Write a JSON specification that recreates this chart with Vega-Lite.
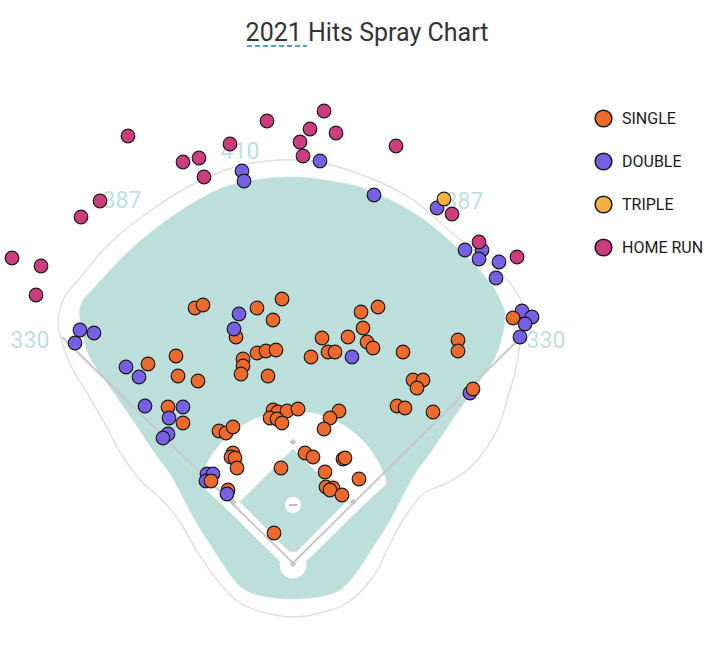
{
  "$schema": "https://vega.github.io/schema/vega-lite/v6.json",
  "width": 724,
  "height": 624,
  "autosize": "none",
  "padding": {"left": 0, "top": 44, "right": 0, "bottom": 0},
  "background": "white",
  "title": {
    "text": "2021 Hits Spray Chart",
    "font": "Roboto",
    "fontSize": 25,
    "fontWeight": "normal",
    "color": "#333333",
    "anchor": "middle",
    "frame": "group",
    "dx": 5,
    "dy": 26,
    "offset": 4,
    "baseline": "alphabetic"
  },
  "config": {"view": {"stroke": null}},
  "datasets": {
    "wall": [
      {"i":1,"x":62,"y":342},{"i":2,"x":58,"y":322},{"i":3,"x":64,"y":298},{"i":4,"x":80,"y":278},{"i":5,"x":110,"y":243},{"i":6,"x":150,"y":211},{"i":7,"x":190,"y":186},{"i":8,"x":235,"y":167},{"i":9,"x":280,"y":160},{"i":10,"x":323,"y":163},{"i":11,"x":370,"y":178},{"i":12,"x":413,"y":200},{"i":13,"x":457,"y":237},{"i":14,"x":490,"y":262},{"i":15,"x":510,"y":283},{"i":16,"x":522,"y":303},{"i":17,"x":525,"y":323},{"i":18,"x":520,"y":345},{"i":19,"x":515,"y":372},{"i":20,"x":507,"y":400},{"i":21,"x":497,"y":430},{"i":22,"x":473,"y":465},{"i":23,"x":447,"y":483},{"i":24,"x":423,"y":494},{"i":25,"x":403,"y":520},{"i":26,"x":388,"y":548},{"i":27,"x":373,"y":577},{"i":28,"x":347,"y":603},{"i":29,"x":320,"y":613},{"i":30,"x":293,"y":617},{"i":31,"x":266,"y":613},{"i":32,"x":240,"y":603},{"i":33,"x":217,"y":580},{"i":34,"x":195,"y":548},{"i":35,"x":180,"y":522},{"i":36,"x":162,"y":500},{"i":37,"x":140,"y":480},{"i":38,"x":120,"y":452},{"i":39,"x":104,"y":422},{"i":40,"x":87,"y":393},{"i":41,"x":72,"y":368}
    ],
    "outfield": [
      {"i":1,"x":80,"y":318},{"i":2,"x":82,"y":302},{"i":3,"x":95,"y":287},{"i":4,"x":127,"y":253},{"i":5,"x":167,"y":220},{"i":6,"x":217,"y":190},{"i":7,"x":255,"y":180},{"i":8,"x":293,"y":177},{"i":9,"x":330,"y":181},{"i":10,"x":368,"y":190},{"i":11,"x":420,"y":217},{"i":12,"x":467,"y":257},{"i":13,"x":490,"y":283},{"i":14,"x":500,"y":300},{"i":15,"x":505,"y":318},{"i":16,"x":497,"y":353},{"i":17,"x":480,"y":380},{"i":18,"x":457,"y":413},{"i":19,"x":430,"y":453},{"i":20,"x":413,"y":477},{"i":21,"x":390,"y":520},{"i":22,"x":373,"y":547},{"i":23,"x":353,"y":577},{"i":24,"x":338,"y":591},{"i":25,"x":318,"y":597},{"i":26,"x":293,"y":599},{"i":27,"x":268,"y":597},{"i":28,"x":247,"y":591},{"i":29,"x":232,"y":577},{"i":30,"x":212,"y":547},{"i":31,"x":195,"y":520},{"i":32,"x":172,"y":477},{"i":33,"x":155,"y":453},{"i":34,"x":128,"y":413},{"i":35,"x":105,"y":380},{"i":36,"x":88,"y":353}
    ],
    "dirt": [
      {"i":1,"x":293,"y":574},{"i":2,"x":231,"y":513},{"i":3,"x":200,"y":484},{"i":4,"x":200.7,"y":478},{"i":5,"x":205.8,"y":465.5},{"i":6,"x":212.6,"y":453.8},{"i":7,"x":220.9,"y":443.1},{"i":8,"x":230.6,"y":433.7},{"i":9,"x":241.6,"y":425.7},{"i":10,"x":253.5,"y":419.4},{"i":11,"x":266.3,"y":414.8},{"i":12,"x":279.5,"y":411.9},{"i":13,"x":293,"y":411},{"i":14,"x":306.5,"y":411.9},{"i":15,"x":319.7,"y":414.8},{"i":16,"x":332.5,"y":419.4},{"i":17,"x":344.4,"y":425.7},{"i":18,"x":355.4,"y":433.7},{"i":19,"x":365.1,"y":443.1},{"i":20,"x":373.4,"y":453.8},{"i":21,"x":380.2,"y":465.5},{"i":22,"x":385.3,"y":478},{"i":23,"x":386,"y":484},{"i":24,"x":355,"y":513}
    ],
    "grass": [
      {"i":1,"x":293,"y":449},{"i":2,"x":346,"y":502},{"i":3,"x":293,"y":555},{"i":4,"x":240,"y":502}
    ],
    "circles": [
      {"x":293,"y":565,"kind":"home"},{"x":293,"y":505,"kind":"mound"}
    ],
    "foul": [
      {"x":62,"y":337,"x2":293,"y2":563},{"x":293,"y":563,"x2":521,"y2":337}
    ],
    "bases": [
      {"x":233,"y":502},{"x":293,"y":442},{"x":353,"y":502},{"x":293,"y":564}
    ],
    "mound": [{"x":293,"y":505}],
    "distances": [
      {"x":30,"y":341,"label":"330"},{"x":122,"y":201,"label":"387"},{"x":240,"y":152,"label":"410"},{"x":464,"y":202,"label":"387"},{"x":546,"y":341,"label":"330"}
    ],
    "underline": [{"x":247,"x2":307,"y":46}],
    "hits": [
      {"x":195,"y":308,"type":"SINGLE"},{"x":203,"y":305,"type":"SINGLE"},{"x":257,"y":308,"type":"SINGLE"},{"x":282,"y":299,"type":"SINGLE"},{"x":273,"y":320,"type":"SINGLE"},{"x":236,"y":337,"type":"SINGLE"},{"x":148,"y":364,"type":"SINGLE"},{"x":176,"y":356,"type":"SINGLE"},{"x":178,"y":376,"type":"SINGLE"},{"x":198,"y":381,"type":"SINGLE"},{"x":243,"y":359,"type":"SINGLE"},{"x":243,"y":366,"type":"SINGLE"},{"x":241,"y":374,"type":"SINGLE"},{"x":257,"y":353,"type":"SINGLE"},{"x":266,"y":351,"type":"SINGLE"},{"x":276,"y":350,"type":"SINGLE"},{"x":268,"y":376,"type":"SINGLE"},{"x":311,"y":357,"type":"SINGLE"},{"x":322,"y":338,"type":"SINGLE"},{"x":348,"y":337,"type":"SINGLE"},{"x":328,"y":352,"type":"SINGLE"},{"x":335,"y":352,"type":"SINGLE"},{"x":361,"y":312,"type":"SINGLE"},{"x":378,"y":307,"type":"SINGLE"},{"x":363,"y":328,"type":"SINGLE"},{"x":367,"y":342,"type":"SINGLE"},{"x":373,"y":348,"type":"SINGLE"},{"x":403,"y":352,"type":"SINGLE"},{"x":458,"y":340,"type":"SINGLE"},{"x":458,"y":351,"type":"SINGLE"},{"x":413,"y":380,"type":"SINGLE"},{"x":423,"y":380,"type":"SINGLE"},{"x":417,"y":388,"type":"SINGLE"},{"x":397,"y":406,"type":"SINGLE"},{"x":405,"y":408,"type":"SINGLE"},{"x":433,"y":412,"type":"SINGLE"},{"x":168,"y":407,"type":"SINGLE"},{"x":183,"y":423,"type":"SINGLE"},{"x":219,"y":431,"type":"SINGLE"},{"x":226,"y":433,"type":"SINGLE"},{"x":233,"y":427,"type":"SINGLE"},{"x":233,"y":453,"type":"SINGLE"},{"x":231,"y":457,"type":"SINGLE"},{"x":235,"y":458,"type":"SINGLE"},{"x":237,"y":468,"type":"SINGLE"},{"x":228,"y":490,"type":"SINGLE"},{"x":273,"y":410,"type":"SINGLE"},{"x":278,"y":412,"type":"SINGLE"},{"x":287,"y":411,"type":"SINGLE"},{"x":298,"y":409,"type":"SINGLE"},{"x":270,"y":418,"type":"SINGLE"},{"x":277,"y":419,"type":"SINGLE"},{"x":282,"y":423,"type":"SINGLE"},{"x":339,"y":411,"type":"SINGLE"},{"x":330,"y":418,"type":"SINGLE"},{"x":324,"y":429,"type":"SINGLE"},{"x":281,"y":468,"type":"SINGLE"},{"x":305,"y":453,"type":"SINGLE"},{"x":313,"y":457,"type":"SINGLE"},{"x":325,"y":472,"type":"SINGLE"},{"x":343,"y":459,"type":"SINGLE"},{"x":345,"y":458,"type":"SINGLE"},{"x":359,"y":479,"type":"SINGLE"},{"x":326,"y":487,"type":"SINGLE"},{"x":333,"y":488,"type":"SINGLE"},{"x":330,"y":490,"type":"SINGLE"},{"x":342,"y":495,"type":"SINGLE"},{"x":274,"y":533,"type":"SINGLE"},
      {"x":242,"y":171,"type":"DOUBLE"},{"x":244,"y":181,"type":"DOUBLE"},{"x":320,"y":161,"type":"DOUBLE"},{"x":374,"y":195,"type":"DOUBLE"},{"x":437,"y":208,"type":"DOUBLE"},{"x":465,"y":250,"type":"DOUBLE"},{"x":482,"y":250,"type":"DOUBLE"},{"x":479,"y":259,"type":"DOUBLE"},{"x":499,"y":262,"type":"DOUBLE"},{"x":496,"y":278,"type":"DOUBLE"},{"x":522,"y":311,"type":"DOUBLE"},{"x":532,"y":317,"type":"DOUBLE"},{"x":525,"y":324,"type":"DOUBLE"},{"x":520,"y":337,"type":"DOUBLE"},{"x":80,"y":330,"type":"DOUBLE"},{"x":94,"y":333,"type":"DOUBLE"},{"x":75,"y":343,"type":"DOUBLE"},{"x":126,"y":367,"type":"DOUBLE"},{"x":139,"y":377,"type":"DOUBLE"},{"x":239,"y":314,"type":"DOUBLE"},{"x":234,"y":329,"type":"DOUBLE"},{"x":352,"y":357,"type":"DOUBLE"},{"x":145,"y":406,"type":"DOUBLE"},{"x":183,"y":407,"type":"DOUBLE"},{"x":169,"y":418,"type":"DOUBLE"},{"x":168,"y":434,"type":"DOUBLE"},{"x":163,"y":438,"type":"DOUBLE"},{"x":207,"y":474,"type":"DOUBLE"},{"x":213,"y":474,"type":"DOUBLE"},{"x":206,"y":481,"type":"DOUBLE"},{"x":227,"y":494,"type":"DOUBLE"},{"x":470,"y":393,"type":"DOUBLE"},
      {"x":211,"y":481,"type":"SINGLE"},{"x":513,"y":318,"type":"SINGLE"},{"x":473,"y":389,"type":"SINGLE"},
      {"x":444,"y":199,"type":"TRIPLE"},
      {"x":12,"y":258,"type":"HOME RUN"},{"x":41,"y":266,"type":"HOME RUN"},{"x":36,"y":295,"type":"HOME RUN"},{"x":81,"y":217,"type":"HOME RUN"},{"x":100,"y":201,"type":"HOME RUN"},{"x":128,"y":136,"type":"HOME RUN"},{"x":183,"y":162,"type":"HOME RUN"},{"x":199,"y":158,"type":"HOME RUN"},{"x":204,"y":177,"type":"HOME RUN"},{"x":230,"y":144,"type":"HOME RUN"},{"x":267,"y":121,"type":"HOME RUN"},{"x":300,"y":142,"type":"HOME RUN"},{"x":310,"y":129,"type":"HOME RUN"},{"x":324,"y":111,"type":"HOME RUN"},{"x":336,"y":133,"type":"HOME RUN"},{"x":303,"y":156,"type":"HOME RUN"},{"x":396,"y":146,"type":"HOME RUN"},{"x":452,"y":214,"type":"HOME RUN"},{"x":479,"y":242,"type":"HOME RUN"},{"x":517,"y":257,"type":"HOME RUN"}
    ]
  },
  "encoding": {
    "x": {"field": "x", "type": "quantitative", "scale": {"domain": [0, 724], "nice": false, "zero": false}, "axis": null},
    "y": {"field": "y", "type": "quantitative", "scale": {"domain": [44, 668], "nice": false, "zero": false, "reverse": true}, "axis": null}
  },
  "layer": [
    {
      "data": {"name": "wall"},
      "mark": {"type": "line", "interpolate": "cardinal-closed", "stroke": "#e0e0e0", "strokeWidth": 1.5},
      "encoding": {"order": {"field": "i", "type": "quantitative"}}
    },
    {
      "data": {"name": "outfield"},
      "mark": {"type": "line", "interpolate": "cardinal-closed", "fill": "#bcdfdc", "stroke": "#bcdfdc", "strokeWidth": 0.5},
      "encoding": {"order": {"field": "i", "type": "quantitative"}}
    },
    {
      "data": {"name": "dirt"},
      "mark": {"type": "line", "interpolate": "linear-closed", "fill": "#ffffff", "stroke": "#ffffff", "strokeWidth": 0.5},
      "encoding": {"order": {"field": "i", "type": "quantitative"}}
    },
    {
      "data": {"name": "grass"},
      "mark": {"type": "line", "interpolate": "linear-closed", "fill": "#bcdfdc", "stroke": "#bcdfdc", "strokeWidth": 0.5},
      "encoding": {"order": {"field": "i", "type": "quantitative"}}
    },
    {
      "data": {"name": "circles"},
      "mark": {"type": "point", "filled": true, "color": "#ffffff", "opacity": 1},
      "encoding": {
        "size": {"field": "kind", "type": "nominal", "scale": {"domain": ["home", "mound"], "range": [720, 260]}, "legend": null}
      }
    },
    {
      "data": {"name": "foul"},
      "mark": {"type": "rule", "color": "#c8c8c8", "strokeWidth": 2},
      "encoding": {"x2": {"field": "x2"}, "y2": {"field": "y2"}}
    },
    {
      "data": {"name": "bases"},
      "mark": {"type": "point", "shape": "diamond", "filled": true, "color": "#c4c4c4", "size": 45, "opacity": 1},
      "encoding": {}
    },
    {
      "data": {"name": "mound"},
      "mark": {"type": "point", "shape": "M-1,0L1,0", "filled": false, "stroke": "#bdbdbd", "strokeWidth": 2, "size": 64, "opacity": 1},
      "encoding": {}
    },
    {
      "data": {"name": "distances"},
      "mark": {"type": "text", "font": "Roboto", "fontSize": 23, "color": "#bfe0dc", "align": "center", "baseline": "middle"},
      "encoding": {"text": {"field": "label"}}
    },
    {
      "data": {"name": "underline"},
      "mark": {"type": "rule", "color": "#5f9db2", "strokeWidth": 2, "strokeDash": [5, 3]},
      "encoding": {"x2": {"field": "x2"}}
    },
    {
      "data": {"name": "hits"},
      "mark": {"type": "point", "filled": true, "size": 185, "stroke": "#1a1a1a", "strokeWidth": 1.2, "opacity": 1},
      "encoding": {
        "color": {
          "field": "type",
          "type": "nominal",
          "scale": {"domain": ["SINGLE", "DOUBLE", "TRIPLE", "HOME RUN"], "range": ["#ee6a2c", "#7660e6", "#f5b140", "#cc3c7e"]},
          "legend": {
            "orient": "none",
            "legendX": 594,
            "legendY": 65,
            "title": null,
            "symbolType": "circle",
            "symbolSize": 280,
            "symbolStrokeWidth": 1.5,
            "symbolStrokeColor": "#1a1a1a",
            "symbolOpacity": 1,
            "labelFont": "Roboto",
            "labelFontSize": 16,
            "labelColor": "#1a1a1a",
            "labelOffset": 9,
            "rowPadding": 20,
            "padding": 0
          }
        }
      }
    }
  ]
}
